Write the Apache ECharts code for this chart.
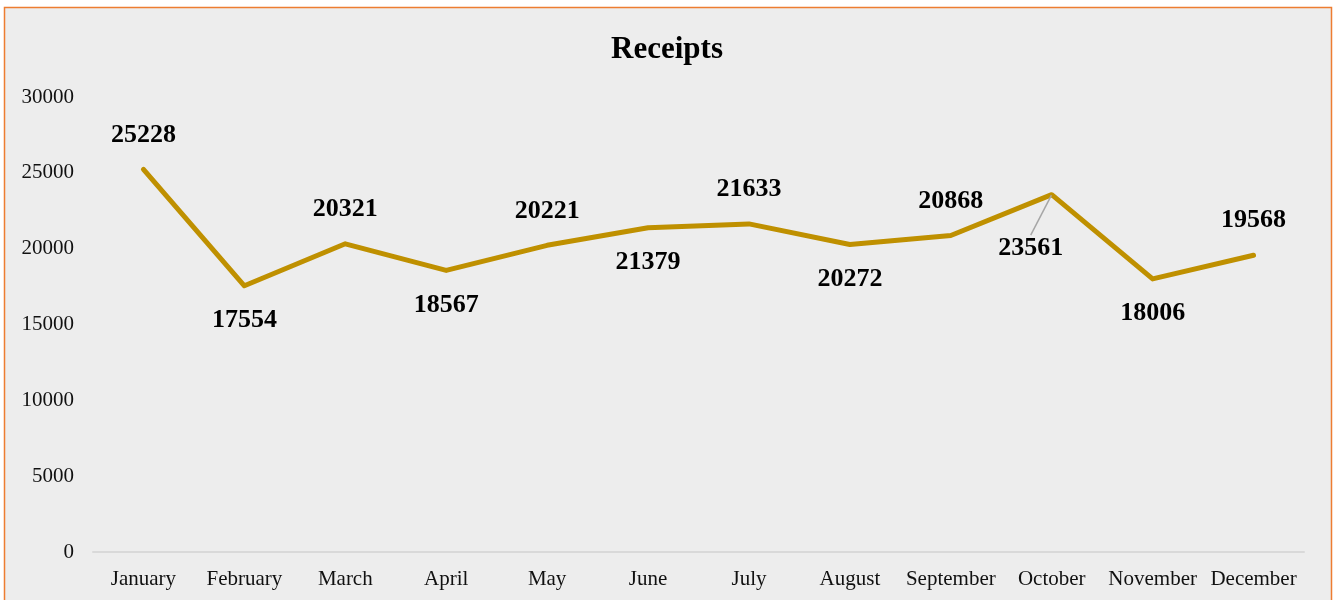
<!DOCTYPE html>
<html>
<head>
<meta charset="utf-8">
<script src="https://cdn.jsdelivr.net/npm/echarts@6/dist/echarts.min.js"></script>
<style>
  html, body { margin: 0; padding: 0; background: #fff; }
  #chart { width: 1334px; height: 600px; }
</style>
</head>
<body>
<div id="chart"></div>
<script>
const months = ['January', 'February', 'March', 'April', 'May', 'June', 'July', 'August', 'September', 'October', 'November', 'December']
const receipts = [25228, 17554, 20321, 18567, 20221, 21379, 21633, 20272, 20868, 23561, 18006, 19568]
// where each value label sits relative to its point
const labelSides = ['top', 'bottom', 'top', 'bottom', 'top', 'bottom', 'top', 'bottom', 'top', 'bottom', 'bottom', 'top']
const yMin = 0
const yMax = 30000
const yStep = 5000

const SERIF = "'Liberation Serif', 'Times New Roman', serif"
const LINE_COLOR = '#BF9000'

const chart = echarts.init(document.getElementById('chart'), null, { renderer: 'canvas' })

const option = {
  backgroundColor: '#fff',
  animation: false,
  graphic: [{
    type: 'rect',
    z: -10,
    shape: { x: 4.5, y: 7.5, width: 1327, height: 600 },
    style: { fill: '#EDEDED', stroke: '#ED7D31', lineWidth: 1.5 }
  }],
  title: {
    text: 'Receipts',
    left: 'center',
    top: 29,
    textStyle: { fontFamily: SERIF, fontSize: 31, fontWeight: 'bold', color: '#000' }
  },
  grid: { left: 93, right: 30, top: 97, bottom: 48 },
  xAxis: {
    type: 'category',
    data: months,
    boundaryGap: true,
    axisLine: { lineStyle: { color: '#D9D9D9', width: 2 } },
    axisTick: { show: false },
    axisLabel: { fontFamily: SERIF, fontSize: 21, color: '#111', margin: 17, interval: 0 }
  },
  yAxis: {
    type: 'value',
    min: yMin,
    max: yMax,
    interval: yStep,
    splitLine: { show: false },
    axisLine: { show: false },
    axisTick: { show: false },
    axisLabel: { fontFamily: SERIF, fontSize: 21, color: '#111', margin: 19, formatter: (v) => String(v) }
  },
  series: [{
    type: 'line',
    data: receipts.map((v, i) => ({
      value: v,
      label: { position: labelSides[i] },
      labelLine: { show: i === 9, lineStyle: { color: '#A6A6A6', width: 1.5 } }
    })),
    symbol: 'circle',
    symbolSize: 1,
    itemStyle: { color: LINE_COLOR },
    lineStyle: { color: LINE_COLOR, width: 5, cap: 'round', join: 'round' },
    label: {
      show: true,
      distance: 21,
      fontFamily: SERIF,
      fontSize: 26,
      fontWeight: 'bold',
      color: '#000'
    },
    labelLayout: (params) => params.dataIndex === 9 ? { dx: -21, dy: 19 } : {}
  }]
}

chart.setOption(option)
</script>
</body>
</html>
